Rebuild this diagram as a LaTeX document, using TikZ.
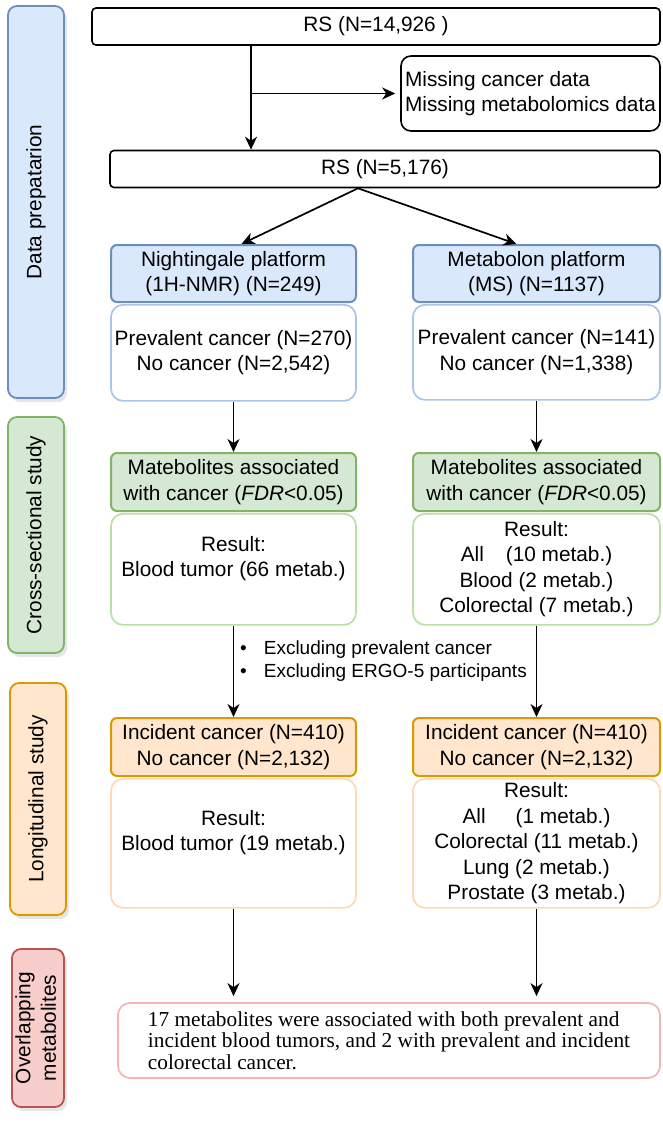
\documentclass[tikz,border=0pt]{standalone}
\usepackage{fontspec}
\setmainfont{Liberation Serif}
\setsansfont{Liberation Sans}
\usepackage{xcolor}
\usepackage{tikz}
\usetikzlibrary{arrows.meta, positioning, shadows}

\definecolor{blueFill}{HTML}{DAE8FC}
\definecolor{blueLine}{HTML}{6C8EBF}
\definecolor{blueBody}{HTML}{A9C4EB}
\definecolor{greenFill}{HTML}{D5E8D4}
\definecolor{greenLine}{HTML}{82B366}
\definecolor{greenBody}{HTML}{B9E0A5}
\definecolor{orangeFill}{HTML}{FFE6CC}
\definecolor{orangeLine}{HTML}{D79B00}
\definecolor{orangeBody}{HTML}{FFD9B3}
\definecolor{redFill}{HTML}{F8CECC}
\definecolor{redLine}{HTML}{B85450}
\definecolor{redBody}{HTML}{F5B3B3}

\newcommand{\flowfont}{\sffamily\fontsize{20.8}{25.5}\selectfont}
\newcommand{\notefont}{\sffamily\fontsize{19}{23}\selectfont}
\newcommand{\sumfont}{\rmfamily\fontsize{21.3}{21.5}\selectfont}

\begin{document}
\begin{tikzpicture}[x=1pt, y=-1pt,
    % --- node styles ---
    rsbox/.style={rectangle, rounded corners=4pt, draw=black, line width=1.6pt,
        fill=white, minimum height=37pt, text centered, font=\flowfont, inner sep=2pt},
    missbox/.style={rectangle, rounded corners=10pt, draw=black, line width=1.6pt,
        fill=white, minimum width=259pt, minimum height=75pt, align=left,
        font=\flowfont, inner sep=2pt},
    head/.style={rectangle, rounded corners=6pt, line width=2pt,
        minimum width=245pt, minimum height=57pt, align=center,
        font=\flowfont, inner sep=2pt},
    body/.style={rectangle, rounded corners=12pt, line width=1.7pt, fill=white,
        minimum width=245pt, align=center, font=\flowfont, inner sep=2pt},
    phase/.style={rectangle, rounded corners=9pt, line width=1.8pt,
        minimum width=56pt, font=\flowfont, inner sep=0pt,
        drop shadow={shadow xshift=3pt, shadow yshift=-4pt, opacity=0.2}},
    summary/.style={rectangle, rounded corners=12pt, draw=redBody, line width=1.7pt,
        fill=white, minimum width=542pt, minimum height=75pt, align=left,
        font=\sumfont, inner sep=2pt},
    note/.style={font=\notefont, align=left, anchor=west, inner sep=0pt},
    % --- arrow style ---
    arr/.style={-{Stealth[length=13pt, width=12pt, inset=4pt]}, line width=1.7pt}
]
\useasboundingbox (0,0) rectangle (662,1122);

%%% ================= PHASE LABELS =================
\node (prep) [phase, draw=blueLine, fill=blueFill, minimum height=392pt]
    at (36,202) {\rotatebox{90}{Data prepatarion}};
\node (cross) [phase, draw=greenLine, fill=greenFill, minimum height=236pt]
    at (36,535) {\rotatebox{90}{Cross-sectional study}};
\node (longi) [phase, draw=orangeLine, fill=orangeFill, minimum height=232pt]
    at (38,799) {\rotatebox{90}{Longitudinal study}};
\node (overlap) [phase, draw=redLine, fill=redFill, minimum height=158pt, minimum width=52pt]
    at (38,1028) {\rotatebox{90}{\begin{tabular}{@{}c@{}}Overlapping\\metabolites\end{tabular}}};

%%% ================= ROW 0: RS COHORT =================
\node (rs1) [rsbox, minimum width=568pt] at (376,26.5) {RS (N=14,926 )};
\node (miss) [missbox] at (530.5,93.5)
    {Missing cancer data\\Missing metabolomics data};
\coordinate (split) at (251,93.5);
\node (rs2) [rsbox, minimum width=550pt] at (385,169) {RS (N=5,176)};

%%% ================= ROW 1: PLATFORMS =================
\node (nmrhead) [head, draw=blueLine, fill=blueFill] at (233.5,273.5)
    {Nightingale platform\\(1H-NMR) (N=249)};
\node (nmrbody) [body, draw=blueBody, minimum height=96pt, below=1pt of nmrhead]
    {Prevalent cancer (N=270)\\No cancer (N=2,542)};
\node (mshead) [head, draw=blueLine, fill=blueFill, minimum width=247pt] at (536.5,273.5)
    {Metabolon platform\\(MS) (N=1137)};
\node (msbody) [body, draw=blueBody, minimum width=247pt, minimum height=95pt, below=1pt of mshead]
    {Prevalent cancer (N=141)\\No cancer (N=1,338)};

%%% ================= ROW 2: CROSS-SECTIONAL =================
\node (nmrcshead) [head, draw=greenLine, fill=greenFill, minimum height=58pt] at (233.5,482)
    {Matebolites associated\\with cancer (\textit{FDR}<0.05)};
\node (nmrcsbody) [body, draw=greenBody, minimum height=111pt, below=1pt of nmrcshead]
    {Result:\\Blood tumor (66 metab.)\\\mbox{}};
\node (mscshead) [head, draw=greenLine, fill=greenFill, minimum width=247pt, minimum height=58pt]
    at (536.5,482) {Matebolites associated\\with cancer (\textit{FDR}<0.05)};
\node (mscsbody) [body, draw=greenBody, minimum width=247pt, minimum height=111pt, below=1pt of mscshead]
    {Result:\\All\hspace{22pt}(10 metab.)\\Blood (2 metab.)\\Colorectal (7 metab.)};

\node (excl) [note] at (240,661.5)
    {\textbullet\hspace{17pt}Excluding prevalent cancer\\
     \textbullet\hspace{17pt}Excluding ERGO-5 participants};

%%% ================= ROW 3: LONGITUDINAL =================
\node (nmrlohead) [head, draw=orangeLine, fill=orangeFill, minimum height=58pt] at (233.5,747)
    {Incident cancer (N=410)\\No cancer (N=2,132)};
\node (nmrlobody) [body, draw=orangeBody, minimum height=129pt, below=1pt of nmrlohead]
    {Result:\\Blood tumor (19 metab.)\\\mbox{}};
\node (mslohead) [head, draw=orangeLine, fill=orangeFill, minimum width=247pt, minimum height=58pt]
    at (536.5,747) {Incident cancer (N=410)\\No cancer (N=2,132)};
\node (mslobody) [body, draw=orangeBody, minimum width=247pt, minimum height=129pt, below=1pt of mslohead]
    {Result:\\All\hspace{30pt}(1 metab.)\\Colorectal (11 metab.)\\Lung (2 metab.)\\Prostate (3 metab.)};

%%% ================= ROW 4: OVERLAP =================
\node (final) [summary] at (389,1040.5)
    {17 metabolites were associated with both prevalent and\\
     incident blood tumors, and 2 with prevalent and incident\\
     colorectal cancer.};

%%% ================= ARROWS =================
%% Selection
\draw [arr] (rs1.south -| split) -- (rs2.north -| split);
\draw [arr, shorten >=5pt] (split) -- (miss.west |- split);
\draw [arr] ([xshift=-27pt]rs2.south) -- ([xshift=8pt]nmrhead.north);
\draw [arr] ([xshift=-27pt]rs2.south) -- ([xshift=-20pt]mshead.north);

%% Down the two platforms
\draw [arr] (nmrbody) -- (nmrcshead);
\draw [arr] (msbody) -- (mscshead);
\draw [arr] (nmrcsbody) -- (nmrlohead);
\draw [arr] (mscsbody) -- (mslohead);
\draw [arr, shorten >=6pt] (nmrlobody.south) -- (nmrlobody.south |- final.north);
\draw [arr, shorten >=6pt] (mslobody.south) -- (mslobody.south |- final.north);

\end{tikzpicture}
\end{document}
